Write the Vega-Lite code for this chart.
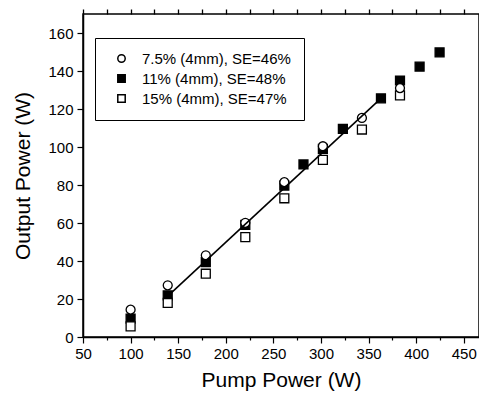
{
  "$schema": "https://vega.github.io/schema/vega-lite/v6.json",
  "width": 396,
  "height": 323,
  "autosize": "none",
  "padding": {"left": 83, "top": 14, "right": 0, "bottom": 58},
  "background": "white",
  "config": {
    "font": "Liberation Sans",
    "view": {"stroke": "black", "strokeWidth": 1.5},
    "axis": {"grid": false, "domainColor": "black", "tickColor": "black", "labelColor": "black", "titleColor": "black", "domainWidth": 1.5, "tickWidth": 1.2}
  },
  "resolve": {"scale": {"x": "independent"}, "axis": {"x": "independent"}},
  "layer": [
    {
      "data": {"values": [
        {"series": "11% (4mm), SE=48%", "pump": 100, "output": 9.7},
        {"series": "11% (4mm), SE=48%", "pump": 139, "output": 21.9},
        {"series": "11% (4mm), SE=48%", "pump": 179, "output": 39.4},
        {"series": "11% (4mm), SE=48%", "pump": 220.5, "output": 59},
        {"series": "11% (4mm), SE=48%", "pump": 261.5, "output": 79.7},
        {"series": "11% (4mm), SE=48%", "pump": 281.6, "output": 90.8},
        {"series": "11% (4mm), SE=48%", "pump": 302, "output": 99},
        {"series": "11% (4mm), SE=48%", "pump": 323, "output": 109.5},
        {"series": "11% (4mm), SE=48%", "pump": 363, "output": 125.6},
        {"series": "11% (4mm), SE=48%", "pump": 383, "output": 135},
        {"series": "11% (4mm), SE=48%", "pump": 403.6, "output": 142.3},
        {"series": "11% (4mm), SE=48%", "pump": 424.6, "output": 149.8},
        {"series": "15% (4mm), SE=47%", "pump": 100, "output": 5.6},
        {"series": "15% (4mm), SE=47%", "pump": 139, "output": 17.9},
        {"series": "15% (4mm), SE=47%", "pump": 179, "output": 33.3},
        {"series": "15% (4mm), SE=47%", "pump": 220.5, "output": 52.6},
        {"series": "15% (4mm), SE=47%", "pump": 261.5, "output": 73},
        {"series": "15% (4mm), SE=47%", "pump": 302, "output": 93.2},
        {"series": "15% (4mm), SE=47%", "pump": 343, "output": 109.2},
        {"series": "15% (4mm), SE=47%", "pump": 383, "output": 127.2},
        {"series": "7.5% (4mm), SE=46%", "pump": 100, "output": 14.4},
        {"series": "7.5% (4mm), SE=46%", "pump": 139, "output": 27.2},
        {"series": "7.5% (4mm), SE=46%", "pump": 179, "output": 43},
        {"series": "7.5% (4mm), SE=46%", "pump": 220.5, "output": 60.1},
        {"series": "7.5% (4mm), SE=46%", "pump": 261.5, "output": 81.5},
        {"series": "7.5% (4mm), SE=46%", "pump": 302, "output": 100.4},
        {"series": "7.5% (4mm), SE=46%", "pump": 343, "output": 115.3},
        {"series": "7.5% (4mm), SE=46%", "pump": 383, "output": 131}
      ]},
      "mark": {"type": "point", "filled": true, "stroke": "black", "strokeWidth": 1.3, "size": 80, "opacity": 1},
      "encoding": {
        "x": {
          "field": "pump", "type": "quantitative",
          "scale": {"domain": [50, 466], "nice": false, "zero": false},
          "axis": {
            "orient": "bottom",
            "title": "Pump Power (W)",
            "values": [50, 75, 100, 125, 150, 175, 200, 225, 250, 275, 300, 325, 350, 375, 400, 425, 450],
            "labelExpr": "datum.value % 50 === 0 ? datum.label : ''",
            "tickSize": {"condition": {"test": "datum.value % 50 === 0", "value": 6}, "value": 3},
            "labelFontSize": 15, "labelPadding": 3, "labelFlush": false, "labelOverlap": false,
            "titleFontSize": 21, "titleFontWeight": "normal", "titlePadding": 8
          }
        },
        "y": {
          "field": "output", "type": "quantitative",
          "scale": {"domain": [0, 170], "nice": false},
          "axis": {
            "title": "Output Power (W)",
            "values": [0, 10, 20, 30, 40, 50, 60, 70, 80, 90, 100, 110, 120, 130, 140, 150, 160],
            "labelExpr": "datum.value % 20 === 0 ? datum.label : ''",
            "tickSize": {"condition": {"test": "datum.value % 20 === 0", "value": 6}, "value": 3},
            "labelFontSize": 15, "labelPadding": 4, "labelFlush": false, "labelOverlap": false,
            "titleFontSize": 21, "titleFontWeight": "normal", "titlePadding": 14
          }
        },
        "fill": {
          "field": "series", "type": "nominal",
          "scale": {"domain": ["7.5% (4mm), SE=46%", "11% (4mm), SE=48%", "15% (4mm), SE=47%"], "range": ["white", "black", "white"]},
          "legend": {
            "title": null, "orient": "none", "legendX": 12, "legendY": 24,
            "strokeColor": "black", "fillColor": "white", "padding": 13,
            "labelFontSize": 15, "labelColor": "black", "labelOffset": 13, "rowPadding": 4, "symbolOffset": 6,
            "symbolSize": 55, "labelLimit": 300,
            "encode": {"symbols": {"update": {"stroke": {"value": "black"}, "strokeWidth": {"value": 1.2}}}}
          }
        },
        "shape": {
          "field": "series", "type": "nominal",
          "scale": {"domain": ["7.5% (4mm), SE=46%", "11% (4mm), SE=48%", "15% (4mm), SE=47%"], "range": ["circle", "square", "square"]},
          "legend": {
            "title": null, "orient": "none", "legendX": 12, "legendY": 24,
            "strokeColor": "black", "fillColor": "white", "padding": 13,
            "labelFontSize": 15, "labelColor": "black", "labelOffset": 13, "rowPadding": 4, "symbolOffset": 6,
            "symbolSize": 55, "labelLimit": 300,
            "encode": {"symbols": {"update": {"stroke": {"value": "black"}, "strokeWidth": {"value": 1.2}}}}
          }
        }
      }
    },
    {
      "data": {"values": [
        {"pump": 139, "output": 21.5},
        {"pump": 363, "output": 125.6}
      ]},
      "mark": {"type": "line", "color": "black", "strokeWidth": 1.6},
      "encoding": {
        "x": {
          "field": "pump", "type": "quantitative",
          "scale": {"domain": [50, 466], "nice": false, "zero": false},
          "axis": {
            "orient": "top", "title": null, "labels": false, "domain": false,
            "values": [50, 75, 100, 125, 150, 175, 200, 225, 250, 275, 300, 325, 350, 375, 400, 425, 450],
            "ticks": true, "tickSize": 5, "tickWidth": 1.3, "tickColor": "black",
            "encode": {"ticks": {"update": {"y2": {"signal": "datum.value % 50 === 0 ? 6 : 3"}}}}
          }
        },
        "y": {"field": "output", "type": "quantitative"}
      }
    }
  ]
}
